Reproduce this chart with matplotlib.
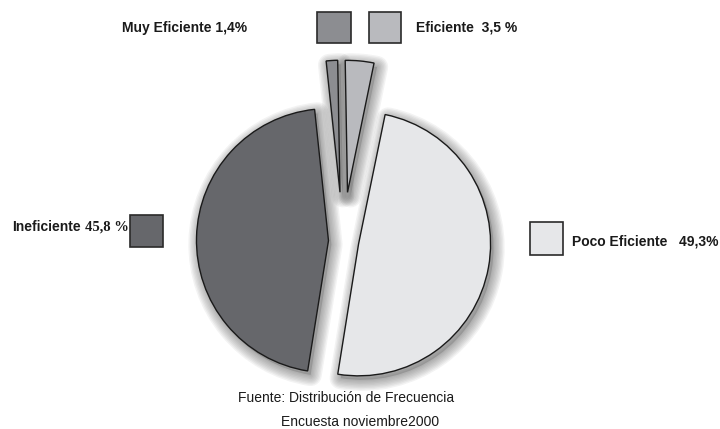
import matplotlib
matplotlib.use("Agg")
import matplotlib.pyplot as plt
from matplotlib.patches import Wedge, Rectangle
from matplotlib import transforms

# datos (orden horario desde arriba)
labels = ["Eficiente", "Poco Eficiente", "Ineficiente", "Muy Eficiente"]
values = [3.5, 49.3, 45.8, 1.4]
colors = ["#b9babe", "#e6e7e9", "#66676b", "#8c8d91"]
explode = [0.37, 0.12, 0.11, 0.37]  # fraccion del radio

W, H = 720, 429
R = 132
fig = plt.figure(figsize=(7.2, 4.29), dpi=100, facecolor="white")
ax = fig.add_axes([0, 0, 1, 1])

wedges, _ = ax.pie(values, colors=colors, startangle=91, counterclock=False,
                   explode=[e * R for e in explode], center=(343, H - 241), radius=R,
                   wedgeprops=dict(edgecolor="#1a1a1a", linewidth=1.0, zorder=2))

# sombra difusa (capas de trazo)
shadow_tr = transforms.offset_copy(ax.transData, fig, x=3, y=-4, units="dots")
for w in wedges:
    for lw in range(16, 0, -2):
        sh = Wedge(w.center, w.r, w.theta1, w.theta2, transform=shadow_tr,
                   facecolor="none", edgecolor=(0.3, 0.3, 0.3, 0.065),
                   linewidth=lw, joinstyle="round", zorder=1)
        ax.add_patch(sh)
    ax.add_patch(Wedge(w.center, w.r, w.theta1, w.theta2, transform=shadow_tr,
                       facecolor=(0.3, 0.3, 0.3, 0.25), edgecolor="none", zorder=1))

ax.set_xlim(0, W)
ax.set_ylim(0, H)
ax.set_aspect("equal")
ax.axis("off")

# cuadros de leyenda
boxes = {
    "Muy Eficiente": (317, 12, 34, 31),
    "Eficiente": (369, 12, 32, 31),
    "Ineficiente": (130, 215, 33, 32),
    "Poco Eficiente": (530, 222, 33, 33),
}
for lab, col in zip(labels, colors):
    x, y, bw, bh = boxes[lab]
    ax.add_patch(Rectangle((x, H - y - bh), bw, bh, facecolor=col,
                           edgecolor="#2a2a2a", linewidth=1.2, zorder=3))

sans = ["Liberation Sans", "DejaVu Sans"]
serif = ["Liberation Serif", "DejaVu Serif"]
ax.text(122, H - 28, "Muy Eficiente 1,4%", family=sans, fontsize=10,
        fontweight="bold", ha="left", va="center", color="#1a1a1a")
ax.text(416, H - 28, "Eficiente  3,5 %", family=sans, fontsize=10,
        fontweight="bold", ha="left", va="center", color="#1a1a1a")
t_inef = ax.text(12, H - 227, "Ineficiente", family=sans, fontsize=10,
                 fontweight="bold", ha="left", va="center", color="#1a1a1a")
ax.annotate("45,8 %", xy=(1, 0.5), xycoords=t_inef, xytext=(3, 0),
            textcoords="offset points", family=serif, fontsize=10.5,
            fontweight="bold", ha="left", va="center", color="#1a1a1a")
ax.text(572, H - 241, "Poco Eficiente   49,3%", family=sans, fontsize=10,
        fontweight="bold", ha="left", va="center", color="#1a1a1a")

ax.text(346, H - 398, "Fuente: Distribución de Frecuencia", family=sans,
        fontsize=10, ha="center", va="center", color="#1a1a1a")
ax.text(360, H - 422, "Encuesta noviembre2000", family=sans,
        fontsize=10, ha="center", va="center", color="#1a1a1a")

plt.savefig("out.png", dpi=100, facecolor="white")
